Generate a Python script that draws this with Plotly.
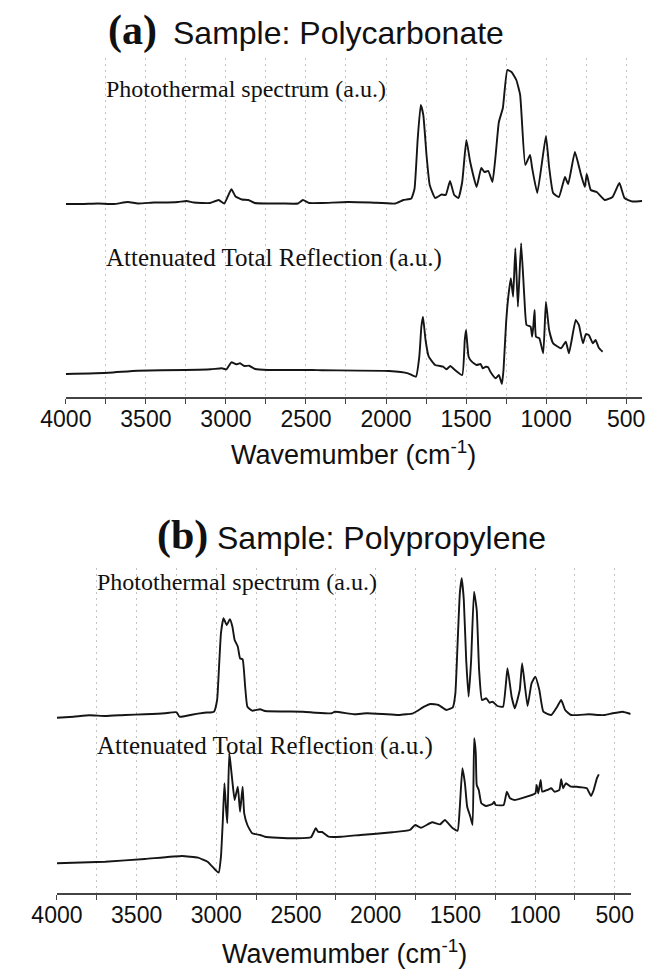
import plotly.graph_objects as go

# ---------------- data ----------------
# (a) Polycarbonate - photothermal spectrum (a.u.)
pc_pt_wn = [4000, 3900, 3800, 3700, 3612, 3550, 3450, 3400, 3300, 3246, 3200, 3100, 3045, 3010,
            2966, 2940, 2900, 2860, 2820, 2750, 2650, 2550, 2519, 2480, 2400, 2240, 2097, 1942,
            1892, 1842, 1822, 1802, 1783, 1767, 1747, 1727, 1693, 1653, 1627, 1600, 1574, 1548,
            1524, 1498, 1474, 1434, 1405, 1385, 1361, 1335, 1315, 1295, 1270, 1242, 1216, 1186,
            1162, 1130, 1100, 1087, 1055, 1001, 981, 956, 920, 882, 862, 820, 783, 758, 746, 721,
            684, 634, 585, 542, 510, 461, 400]
pc_pt_val = [0, 0, 0.5, 0, 2, 0.5, 1.5, 1.5, 2, 3, 1.5, 1, 4, 0.5,
             14.7, 7.5, 4.5, 4, 1, 0.5, 0.5, 0.5, 4, 1, 1, 2, 1.5, 0.5,
             4, 5.5, 15, 65, 99, 89, 49, 19, 6, 9.5, 9, 23, 9, 6,
             22, 64, 42, 17, 36, 32, 33, 22, 49, 82, 96, 134, 132, 124,
             109, 39, 49, 36, 11, 68, 37, 11, 7, 27, 20, 52, 30, 17, 30, 14,
             12, 4, 7, 21, 6, 2.5, 3]

# (a) Polycarbonate - attenuated total reflection (a.u.)
pc_atr_wn = [4000, 3732, 3553, 3254, 3095, 3026, 2996, 2966, 2936, 2912, 2885, 2855, 2817, 2737,
             2459, 2399, 1981, 1862, 1813, 1792, 1779, 1769, 1753, 1733, 1693, 1643, 1623, 1598,
             1574, 1524, 1508, 1500, 1484, 1464, 1434, 1409, 1396, 1376, 1362, 1348, 1315, 1295,
             1276, 1266, 1250, 1236, 1220, 1206, 1192, 1176, 1156, 1136, 1122, 1097, 1087, 1080,
             1072, 1063, 1042, 1018, 1001, 981, 956, 906, 877, 857, 815, 795, 770, 751, 733, 708,
             691, 671, 647]
pc_atr_val = [0, 1.3, 3.3, 4, 4.7, 5.7, 4.7, 11.7, 9.7, 10.7, 8, 8.3, 5, 4,
              4, 3.7, 3, 0.7, -2.7, 17.3, 47.3, 57.3, 34, 17.3, 9, 7.3, 4.7, 8,
              4.7, -1, 34, 44, 17.3, 12.3, 9, 10, 5.7, 7.3, 6.7, 2.3, -4.3, -1,
              -10, 4, 50.7, 77.3, 95.7, 77.3, 125.7, 67.3, 130.7, 77.3, 49, 47.3, 37.3, 47.3,
              64, 37.3, 35.6, 20.7, 72.3, 44, 30.7, 25.7, 32.3, 20.7, 54, 49, 30.7, 40, 39, 30.7,
              34, 26.3, 22.3]

# (b) Polypropylene - photothermal spectrum (a.u.)
pp_pt_wn = [4000, 3896, 3796, 3697, 3572, 3448, 3324, 3295, 3249, 3231, 3155, 3075, 3015, 2995,
            2985, 2971, 2955, 2935, 2915, 2899, 2885, 2865, 2851, 2835, 2819, 2805, 2775, 2725,
            2695, 2456, 2376, 2276, 2256, 2136, 2056, 1956, 1856, 1766, 1736, 1696, 1656, 1606,
            1556, 1516, 1500, 1486, 1472, 1460, 1447, 1432, 1417, 1401, 1383, 1366, 1351, 1333,
            1306, 1286, 1266, 1237, 1201, 1173, 1147, 1127, 1096, 1081, 1047, 1022, 998, 973,
            948, 898, 861, 836, 811, 774, 662, 600, 562, 513, 450, 400]
pp_pt_val = [-2.7, -1.7, -0.3, -1, 0, 0.7, 1.7, 2.3, 2.7, -1.7, 0.3, 2.3, 3.3, 15,
             41.7, 81.7, 96.7, 90, 95.7, 88.3, 75, 68.3, 56.7, 55.7, 28.3, 8.3, 4.3, 5.7,
             4, 3.3, 2.3, 1.7, 3.3, 0.7, 1.7, 1, 0, 1.7, 4.3, 8.3, 11, 10,
             5, 7.7, 21.7, 71.7, 121.7, 136.7, 115, 55, 18.3, 55, 123.3, 105, 45, 15,
             16.7, 12.3, 13.3, 9, 8.3, 46.7, 18.3, 6.7, 25, 51.7, 9, 31.7, 38.3, 25,
             3.3, 0, 8.3, 15, 5, 0, 0.7, 0, 0, 1.7, 3.3, 1]

# (b) Polypropylene - attenuated total reflection (a.u.)
pp_atr_wn = [4000, 3697, 3448, 3215, 3115, 3055, 3005, 2985, 2971, 2959, 2949, 2939, 2931, 2919,
             2911, 2899, 2885, 2865, 2851, 2835, 2825, 2805, 2775, 2725, 2695, 2615, 2496, 2406,
             2376, 2360, 2336, 2296, 2216, 2096, 1896, 1786, 1752, 1716, 1646, 1596, 1566, 1516,
             1486, 1472, 1456, 1440, 1426, 1406, 1392, 1382, 1372, 1366, 1353, 1337, 1307, 1267,
             1257, 1247, 1197, 1177, 1157, 1127, 1087, 998, 990, 980, 965, 955, 923, 898, 878,
             848, 836, 824, 807, 774, 737, 712, 675, 649, 632, 612, 600]
pp_atr_val = [-0.3, 1.3, 4, 7, 5.3, 1.3, -7, -9.7, 6.3, 43, 79.7, 54.7, 39.7, 109.7,
              99.7, 81.3, 63, 76.3, 51.3, 76.3, 49.7, 38, 29.7, 28, 26.3, 25.3, 24.7, 25.7,
              34.7, 31, 31, 26.3, 26.3, 28, 30.7, 33, 38, 35.3, 40.7, 38.7, 43, 34.7,
              32.3, 56.3, 94.7, 79.7, 56.3, 46.3, 38, 124.7, 110, 78, 73, 59.7, 57, 59,
              61.3, 58, 58, 71.3, 64.7, 63, 64.7, 69.7, 78, 69.7, 83, 71.3, 73, 74.7, 71.3,
              73, 83.7, 74.7, 79.7, 76.3, 76.3, 75.7, 74.7, 67, 73, 84.7, 88.7]

major_ticks = [4000, 3500, 3000, 2500, 2000, 1500, 1000, 500]
major_text = ["4000", "3500", "3000", "2500", "2000", "1500", "1000", "500"]
minor_ticks = [3750, 3250, 2750, 2250, 1750, 1250, 750]

# stacking offsets of each trace inside its panel (a.u.)
PC_PT_OFF, PC_ATR_OFF = 193, 23
PP_PT_OFF, PP_ATR_OFF = 178, 30

# ---------------- figure ----------------
W, H = 648, 973
def px(x):
    return x / W
def py(y):
    return 1 - y / H

line = dict(color="#151515", width=1.9, shape="spline", smoothing=0.4)
fig = go.Figure()
fig.add_trace(go.Scatter(x=pc_pt_wn, y=[v + PC_PT_OFF for v in pc_pt_val], mode="lines",
                         line=line, xaxis="x", yaxis="y", hoverinfo="skip"))
fig.add_trace(go.Scatter(x=pc_atr_wn, y=[v + PC_ATR_OFF for v in pc_atr_val], mode="lines",
                         line=line, xaxis="x", yaxis="y", hoverinfo="skip"))
fig.add_trace(go.Scatter(x=pp_pt_wn, y=[v + PP_PT_OFF for v in pp_pt_val], mode="lines",
                         line=line, xaxis="x2", yaxis="y2", hoverinfo="skip"))
fig.add_trace(go.Scatter(x=pp_atr_wn, y=[v + PP_ATR_OFF for v in pp_atr_val], mode="lines",
                         line=line, xaxis="x2", yaxis="y2", hoverinfo="skip"))

grid = dict(gridcolor="#c4c4c4", griddash="2px,4px", gridwidth=1)
xcommon = dict(range=[4000, 400], tickmode="array", tickvals=major_ticks, ticktext=major_text,
               showline=True, linecolor="#444", linewidth=1.6, ticks="outside", ticklen=5,
               tickcolor="#444", tickwidth=1.2, showgrid=True, zeroline=False,
               ticklabelstandoff=-4,
               minor=dict(tickmode="array", tickvals=minor_ticks, ticks="outside", ticklen=5,
                          tickcolor="#444", tickwidth=1.2, showgrid=True, **grid),
               tickfont=dict(family="Liberation Sans, Arial", size=23, color="#111"),
               **grid)
fig.update_layout(
    width=W, height=H, margin=dict(l=0, r=0, t=0, b=0),
    paper_bgcolor="white", plot_bgcolor="white", showlegend=False,
    xaxis=dict(domain=[px(41.7), px(645)], anchor="y", **xcommon),
    yaxis=dict(domain=[py(397), py(58)], range=[0, 339], visible=False, anchor="x"),
    xaxis2=dict(domain=[px(32.4), px(633)], anchor="y2", **xcommon),
    yaxis2=dict(domain=[py(893), py(568)], range=[0, 325], visible=False, anchor="x2"),
)

serif = "Liberation Serif, Times New Roman"
sans = "Liberation Sans, Arial"
def note(text, x, y, family, size, xanchor="left", bold=False):
    fig.add_annotation(text=("<b>%s</b>" % text) if bold else text, x=px(x), y=py(y),
                       xref="paper", yref="paper", xanchor=xanchor, yanchor="middle",
                       showarrow=False, font=dict(family=family, size=size, color="#111"))

note("(a)", 84, 30, serif, 42, bold=True)
note("Sample: Polycarbonate", 152, 33, sans, 32)
note("Photothermal spectrum (a.u.)", 82, 89, serif, 24)
note("Attenuated Total Reflection (a.u.)", 82, 258, serif, 25)
note("Wavemumber (cm<sup>-1</sup>)", 343, 453, sans, 27, xanchor="center")

note("(b)", 135, 535, serif, 42, bold=True)
note("Sample: Polypropylene", 198, 538, sans, 32)
note("Photothermal spectrum (a.u.)", 72, 582, serif, 24)
note("Attenuated Total Reflection (a.u.)", 72, 746, serif, 25)
note("Wavemumber (cm<sup>-1</sup>)", 333, 952, sans, 27, xanchor="center")

fig.write_html("out.html")
